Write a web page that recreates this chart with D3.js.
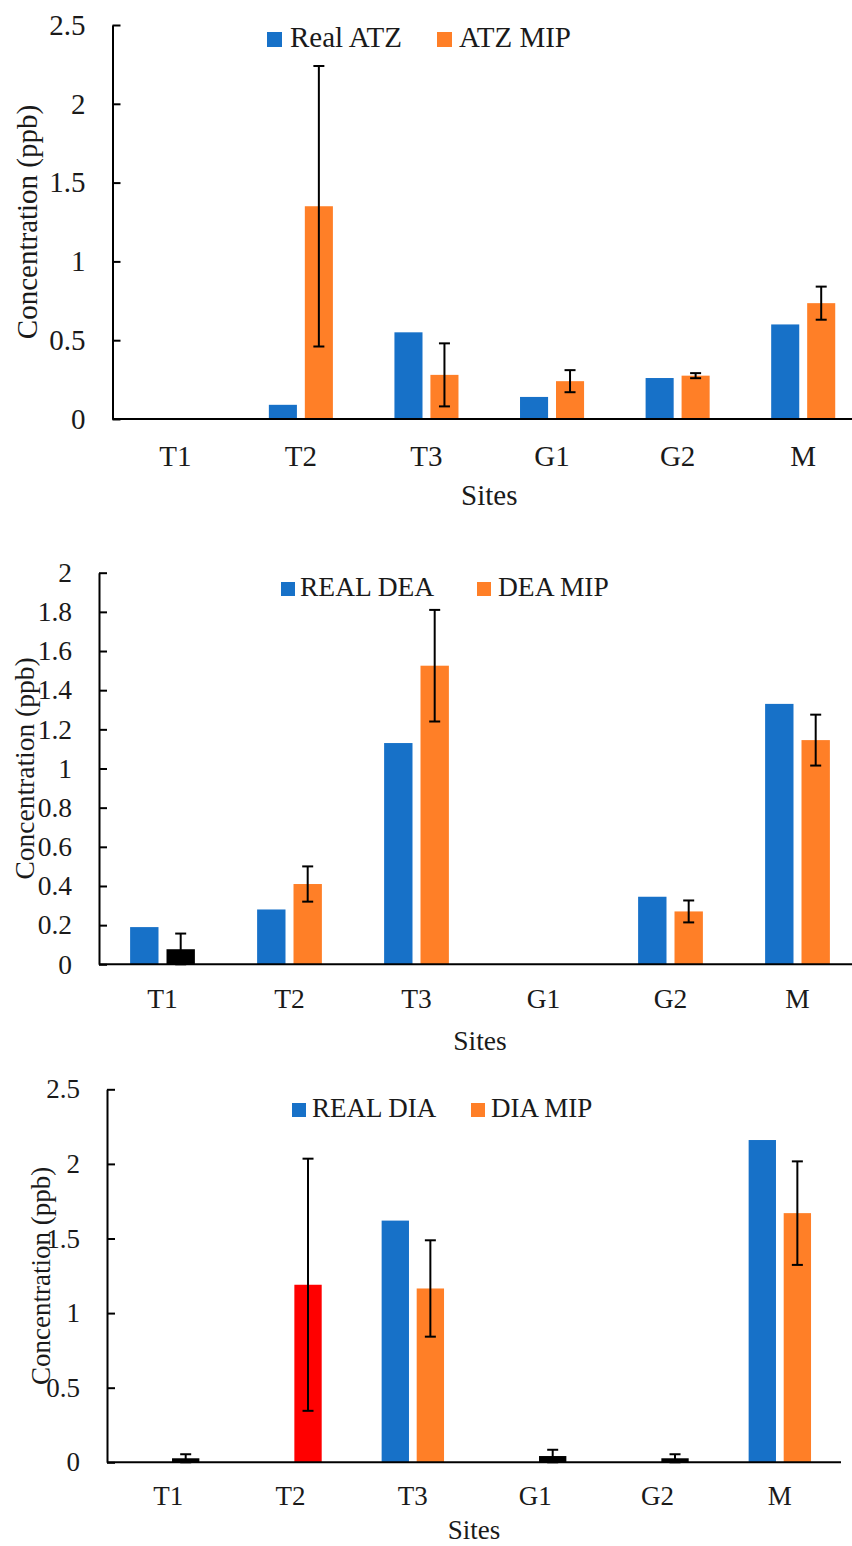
<!DOCTYPE html>
<html lang="en">
<head>
    <meta charset="UTF-8">
    <title>ATZ, DEA and DIA concentrations per site</title>
    <script src="https://d3js.org/d3.v7.min.js"></script>
    <style>
        body { margin: 0; background: #fff; }
        svg text { font-family: "Liberation Serif", "Times New Roman", Tinos, "DejaVu Serif", serif !important; fill: #1a1a1a; }
        .axis path, .axis line { stroke: #000; stroke-width: 2px; }
        .err { stroke: #000; stroke-width: 2px; }
    </style>
</head>
<body>
    <div id="chart"></div>
    <script>
        // Data
        const sites = ["T1", "T2", "T3", "G1", "G2", "M"];

        const atzReal   = [0, 0.09, 0.55, 0.14, 0.26, 0.60];
        const atzMip    = [0, 1.35, 0.28, 0.24, 0.275, 0.735];
        const atzMipErr = [0, 0.89, 0.20, 0.07, 0.016, 0.105];

        const deaReal   = [0.19, 0.28, 1.13, 0, 0.345, 1.33];
        const deaMip    = [0.077, 0.41, 1.525, 0, 0.27, 1.145];
        const deaMipErr = [0.08, 0.09, 0.285, 0, 0.056, 0.13];

        const diaReal   = [0, 0, 1.62, 0, 0, 2.16];
        const diaMip    = [0.027, 1.19, 1.165, 0.042, 0.027, 1.67];
        const diaMipErr = [0.027, 0.845, 0.323, 0.042, 0.027, 0.347];

        const yTicksAtz = [0, 0.5, 1, 1.5, 2, 2.5];
        const yTicksDea = [0, 0.2, 0.4, 0.6, 0.8, 1, 1.2, 1.4, 1.6, 1.8, 2];
        const yTicksDia = [0, 0.5, 1, 1.5, 2, 2.5];

        const legendAtz = ["Real ATZ", "ATZ MIP"];
        const legendDea = ["REAL DEA", "DEA MIP"];
        const legendDia = ["REAL DIA", "DIA MIP"];

        // a few MIP bars are drawn in another colour in the original
        const deaMipColors = ["#000", null, null, null, null, null];
        const diaMipColors = ["#000", "#ff0000", null, "#000", "#000", null];

        const blue = "#1771c8", orange = "#ff7f27";
        const serif = "'Liberation Serif', 'Times New Roman', Tinos, 'DejaVu Serif', serif";

        const svg = d3.select("#chart")
                      .append("svg")
                      .attr("width", 852)
                      .attr("height", 1546)
                      .attr("font-family", serif);

        const panels = [
            { real: atzReal, mip: atzMip, err: atzMipErr, colors: null, ticks: yTicksAtz, legend: legendAtz,
              left: 112.5, right: 866, top: 25, bottom: 419, fs: 29, catPad: 26.5, sitesDy: 86, titleX: 37,
              leg: { y: 32, size: 15, bx: 267, btx: 290, ox: 437, otx: 459, base: 47 } },
            { real: deaReal, mip: deaMip, err: deaMipErr, colors: deaMipColors, ticks: yTicksDea, legend: legendDea,
              left: 99, right: 861, top: 572.7, bottom: 964.3, fs: 27.5, catPad: 24.5, sitesDy: 86, titleX: 34,
              leg: { y: 582, size: 14, bx: 281, btx: 300, ox: 477, otx: 498, base: 596 } },
            { real: diaReal, mip: diaMip, err: diaMipErr, colors: diaMipColors, ticks: yTicksDia, legend: legendDia,
              left: 107, right: 841, top: 1089.3, bottom: 1462.3, fs: 27, catPad: 24, sitesDy: 77, titleX: 50,
              leg: { y: 1103, size: 14, bx: 292, btx: 312, ox: 471, otx: 491, base: 1117 } }
        ];

        panels.forEach(p => {
            const g = svg.append("g");

            const x = d3.scaleBand()
                        .domain(sites)
                        .range([p.left, p.right])
                        .paddingInner(0.49)
                        .paddingOuter(0.245);

            const xs = d3.scaleBand()
                         .domain(["real", "mip"])
                         .range([0, x.bandwidth()])
                         .paddingInner(0.22);

            const y = d3.scaleLinear()
                        .domain([0, d3.max(p.ticks)])
                        .range([p.bottom, p.top]);

            // Bars
            const rows = sites.map((s, i) => ({ site: s, real: p.real[i], mip: p.mip[i], err: p.err[i],
                                               color: p.colors ? p.colors[i] : null }));

            g.selectAll(".bar-real")
             .data(rows.filter(d => d.real > 0))
             .join("rect")
             .attr("x", d => x(d.site) + xs("real"))
             .attr("width", xs.bandwidth())
             .attr("y", d => y(d.real))
             .attr("height", d => y(0) - y(d.real))
             .attr("fill", blue);

            g.selectAll(".bar-mip")
             .data(rows.filter(d => d.mip > 0))
             .join("rect")
             .attr("x", d => x(d.site) + xs("mip"))
             .attr("width", xs.bandwidth())
             .attr("y", d => y(d.mip))
             .attr("height", d => y(0) - y(d.mip))
             .attr("fill", d => d.color || orange);

            // Error bars on the MIP series
            const errRows = rows.filter(d => d.err > 0);
            const cx = d => x(d.site) + xs("mip") + xs.bandwidth() / 2;
            const cap = 5.5;

            g.selectAll(".err-v")
             .data(errRows)
             .join("line")
             .attr("class", "err")
             .attr("x1", cx).attr("x2", cx)
             .attr("y1", d => y(d.mip + d.err))
             .attr("y2", d => y(Math.max(d.mip - d.err, 0)));

            g.selectAll(".err-top")
             .data(errRows)
             .join("line")
             .attr("class", "err")
             .attr("x1", d => cx(d) - cap).attr("x2", d => cx(d) + cap)
             .attr("y1", d => y(d.mip + d.err)).attr("y2", d => y(d.mip + d.err));

            g.selectAll(".err-bot")
             .data(errRows)
             .join("line")
             .attr("class", "err")
             .attr("x1", d => cx(d) - cap).attr("x2", d => cx(d) + cap)
             .attr("y1", d => y(Math.max(d.mip - d.err, 0))).attr("y2", d => y(Math.max(d.mip - d.err, 0)));

            // Y axis, ticks pointing inward
            g.append("g")
             .attr("class", "axis")
             .attr("transform", `translate(${p.left},0)`)
             .call(d3.axisLeft(y).tickValues(p.ticks).tickFormat(d3.format("")).tickSizeInner(-8).tickSizeOuter(0).tickPadding(27))
             .attr("font-family", serif)
             .call(a => a.selectAll("text").style("font-size", p.fs + "px").attr("fill", "#1a1a1a"));

            // X axis
            g.append("g")
             .attr("class", "axis")
             .attr("transform", `translate(0,${p.bottom})`)
             .call(d3.axisBottom(x).tickSize(0).tickPadding(p.catPad))
             .attr("font-family", serif)
             .call(a => a.selectAll("text").style("font-size", p.fs + "px").attr("fill", "#1a1a1a"))
             .call(a => a.select(".domain").attr("d", `M${p.left},0H${p.right}`));

            // Axis titles
            g.append("text")
             .attr("x", (p.left + p.right) / 2)
             .attr("y", p.bottom + p.sitesDy)
             .attr("text-anchor", "middle")
             .style("font-size", p.fs + "px")
             .text("Sites");

            g.append("text")
             .attr("transform", `translate(${p.titleX},${(p.top + p.bottom) / 2}) rotate(-90)`)
             .attr("text-anchor", "middle")
             .style("font-size", p.fs + "px")
             .text("Concentration (ppb)");

            // Legend
            const L = p.leg;
            g.append("rect").attr("x", L.bx).attr("y", L.y).attr("width", L.size).attr("height", L.size).attr("fill", blue);
            g.append("text").attr("x", L.btx).attr("y", L.base).style("font-size", p.fs + "px").text(p.legend[0]);
            g.append("rect").attr("x", L.ox).attr("y", L.y).attr("width", L.size).attr("height", L.size).attr("fill", orange);
            g.append("text").attr("x", L.otx).attr("y", L.base).style("font-size", p.fs + "px").text(p.legend[1]);
        });
    </script>
</body>
</html>
